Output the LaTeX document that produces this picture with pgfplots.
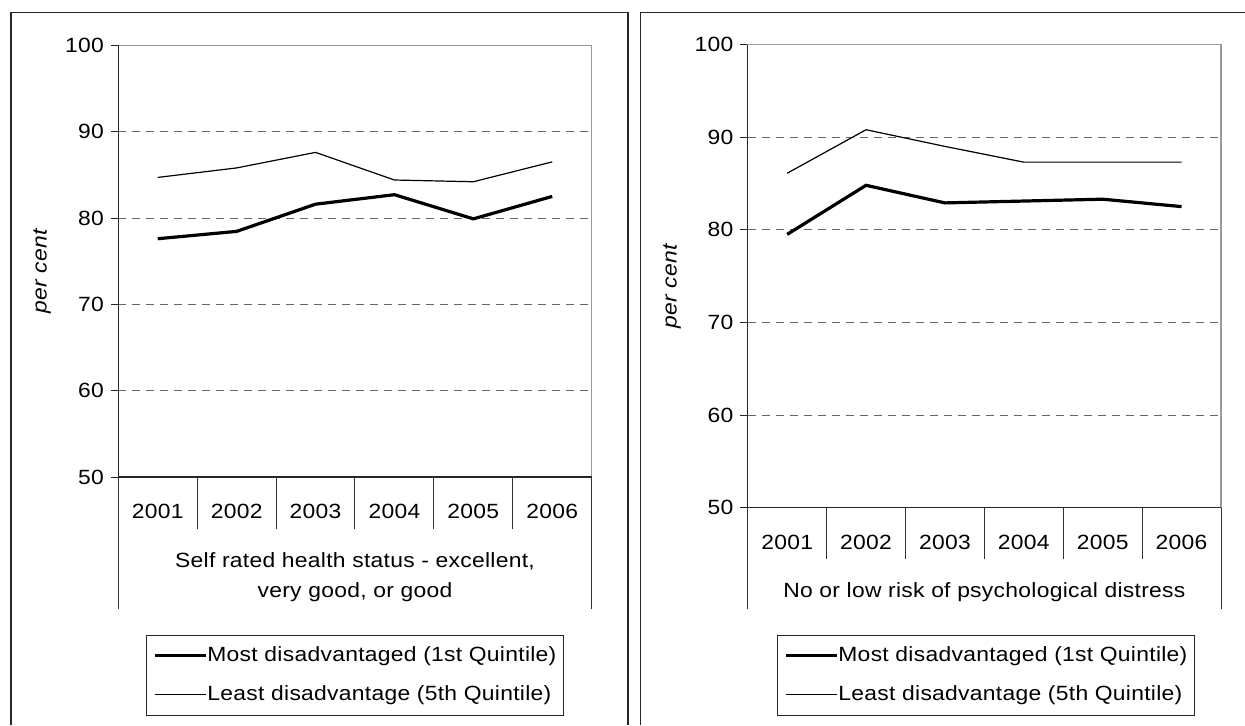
\documentclass[border=0pt]{standalone}
\usepackage{fontspec}
\setmainfont{Liberation Sans}[FakeStretch=1.11, LetterSpace=1.4]
\usepackage{pgfplots}
\pgfplotsset{compat=1.18}
\usepackage{pgfplotstable}
\newcommand\fs{\fontsize{10.3}{15}\selectfont}

\pgfplotstableread{
x most least
1 77.6 84.7
2 78.45 85.8
3 81.6 87.6
4 82.7 84.4
5 79.9 84.2
6 82.5 86.5
}\healthdata
\pgfplotstableread{
x most least
1 79.5 86.1
2 84.8 90.8
3 82.9 89.0
4 83.1 87.3
5 83.3 87.3
6 82.5 87.3
}\distressdata

\tikzset{
 sep/.style={black!80, line width=0.5pt},
 spine/.style={black!85, line width=0.6pt},
}
\pgfplotsset{
 panel/.style={
  scale only axis,
  xmin=0.5, xmax=6.5, ymin=50, ymax=100,
  ytick={50,60,...,100},
  xtick={1,...,6},
  xticklabels={2001,2002,2003,2004,2005,2006},
  tick align=outside,
  major tick length=3.65pt,
  ytick pos=left,
  xtick pos=bottom,
  xtick style={draw=none},
  ytick style={black!85, line width=0.5pt},
  axis line style={black!40, line width=0.6pt},
  ymajorgrids,
  grid style={black!60, line width=0.5pt, dash pattern=on 4pt off 3pt},
  clip=false,
  /pgf/number format/assume math mode=true,
  tick label style={font=\fs},
  xticklabel style={anchor=center, yshift=-13.5pt},
  yticklabel style={anchor=east},
  legend cell align=left,
  legend style={anchor=north west, draw=black!85, line width=0.5pt, fill=white,
    inner xsep=3.5pt, inner ysep=5.3pt, row sep=9.35pt, font=\fs,
    cells={anchor=west}, nodes={inner sep=0pt, text height=8pt, text depth=2pt},
    /tikz/every even column/.append style={column sep=1.8pt}},
  legend image code/.code={\draw[##1] (0pt,0pt) -- (25.5pt,0pt);},
 },
 most/.style={black, line width=1.6pt},
 least/.style={black, line width=0.6pt},
}

\begin{document}
\begin{tikzpicture}
\useasboundingbox (0,0) rectangle (622.5pt,-362.5pt);
% panel frames
\draw[spine] (5.5pt,-362.5pt) -- (5.5pt,-6.35pt) -- (314pt,-6.35pt) -- (314pt,-362.5pt);
\draw[spine] (320.35pt,-362.5pt) -- (320.35pt,-6.35pt) -- (630pt,-6.35pt);

% left panel
\begin{axis}[panel, at={(59.15pt,-238.5pt)}, anchor=south west,
  width=236.7pt, height=215.85pt,
  legend style={at={(axis description cs:0.0579,-0.3653)}}]
\addplot[most] table[x=x, y=most] {\healthdata};
\addlegendentry{Most disadvantaged (1st Quintile)}
\addplot[least] table[x=x, y=least] {\healthdata};
\addlegendentry{Least disadvantage (5th Quintile)}
\draw[spine] (rel axis cs:0,1) -- (rel axis cs:0,0) -- (rel axis cs:1,0);
\draw[sep] (axis cs:1.5,50) -- ++(0pt,-26pt);
\draw[sep] (axis cs:2.5,50) -- ++(0pt,-26pt);
\draw[sep] (axis cs:3.5,50) -- ++(0pt,-26pt);
\draw[sep] (axis cs:4.5,50) -- ++(0pt,-26pt);
\draw[sep] (axis cs:5.5,50) -- ++(0pt,-26pt);
\draw[sep] (axis cs:0.5,50) -- ++(0pt,-66pt);
\draw[sep] (axis cs:6.5,50) -- ++(0pt,-66pt);
\node[font=\fs, align=center] at (axis cs:3.5,50) [yshift=-49.9pt] {Self rated health status - excellent,\\very good, or good};
\end{axis}

% right panel
\begin{axis}[panel, at={(373.85pt,-253.8pt)}, anchor=south west,
  width=236.65pt, height=231.55pt,
  legend style={at={(axis description cs:0.0613,-0.2745)}}]
\addplot[most] table[x=x, y=most] {\distressdata};
\addlegendentry{Most disadvantaged (1st Quintile)}
\addplot[least] table[x=x, y=least] {\distressdata};
\addlegendentry{Least disadvantage (5th Quintile)}
\draw[spine] (rel axis cs:0,1) -- (rel axis cs:0,0) -- (rel axis cs:1,0);
\draw[sep] (axis cs:1.5,50) -- ++(0pt,-25.7pt);
\draw[sep] (axis cs:2.5,50) -- ++(0pt,-25.7pt);
\draw[sep] (axis cs:3.5,50) -- ++(0pt,-25.7pt);
\draw[sep] (axis cs:4.5,50) -- ++(0pt,-25.7pt);
\draw[sep] (axis cs:5.5,50) -- ++(0pt,-25.7pt);
\draw[sep] (axis cs:0.5,50) -- ++(0pt,-50.7pt);
\draw[sep] (axis cs:6.5,50) -- ++(0pt,-50.7pt);
\node[font=\fs] at (axis cs:3.5,50) [yshift=-42.1pt] {No or low risk of psychological distress};
\end{axis}

% axis titles
\node[rotate=90, font=\fs\itshape] at (21pt,-135.75pt) {per cent};
\node[rotate=90, font=\fs\itshape] at (336pt,-143.35pt) {per cent};
\end{tikzpicture}
\end{document}
